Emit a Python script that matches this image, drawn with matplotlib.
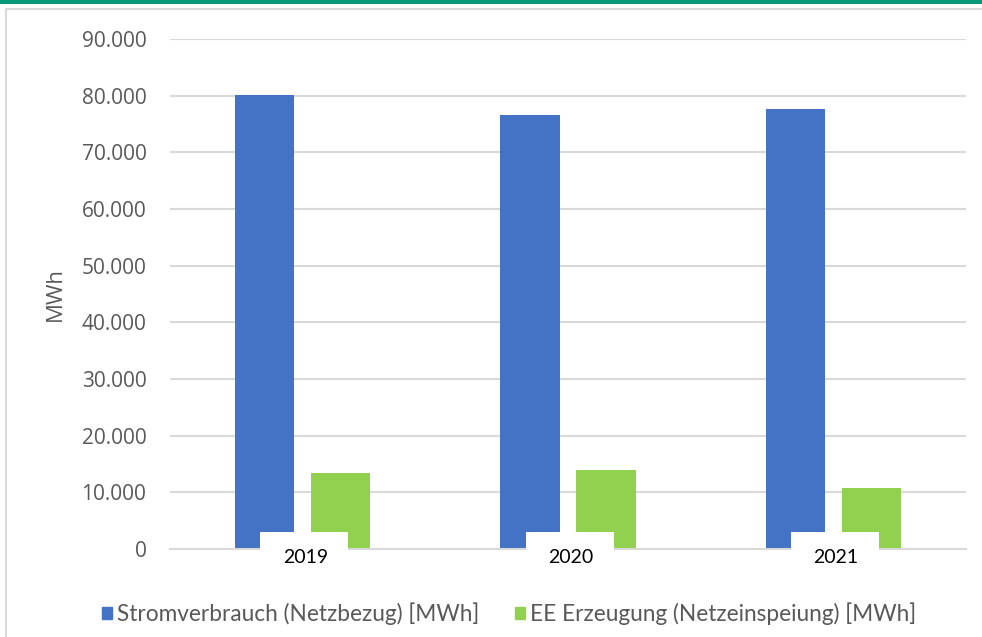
import matplotlib
matplotlib.use("Agg")
import matplotlib.pyplot as plt
import numpy as np
from matplotlib.patches import Rectangle, Patch
from matplotlib.ticker import FuncFormatter, MultipleLocator

YEARS = ["2019", "2020", "2021"]
NETZBEZUG = [80100, 76500, 77700]      # Stromverbrauch (Netzbezug) [MWh]
EINSPEISUNG = [13350, 13950, 10700]    # EE Erzeugung (Netzeinspeiung) [MWh]
LABELS = ["Stromverbrauch (Netzbezug) [MWh]", "EE Erzeugung (Netzeinspeiung) [MWh]"]

BLUE = "#4472c4"
GREEN = "#92d050"
GRID = "#d9d9d9"

W, H = 982, 637
fig = plt.figure(figsize=(W / 100, H / 100), dpi=100)
ax = fig.add_axes([170 / W, 1 - 549 / H, 796 / W, 510 / H])

x = np.arange(len(YEARS))
bw = 0.2224
off = 0.1432
ax.bar(x - off, NETZBEZUG, bw, color=BLUE, zorder=2)
ax.bar(x + off, EINSPEISUNG, bw, color=GREEN, zorder=2)

ax.set_xlim(-0.5, len(YEARS) - 0.5)
ax.set_ylim(0, 90000)
ax.yaxis.set_major_locator(MultipleLocator(10000))
ax.yaxis.set_major_formatter(FuncFormatter(lambda v, p: f"{int(v):,}".replace(",", ".")))
ax.grid(axis="y", color=GRID, linewidth=1.5, zorder=0)
ax.set_axisbelow(True)
for s in ["top", "right", "left"]:
    ax.spines[s].set_visible(False)
ax.spines["bottom"].set_color(GRID)
ax.spines["bottom"].set_linewidth(1.5)
ax.tick_params(axis="y", length=0, pad=17, labelsize=15, labelcolor="#595959")
ax.tick_params(axis="x", length=0, labelbottom=False)
for t in ax.get_yticklabels():
    t.set_fontfamily("Open Sans")
ax.set_ylabel("MWh", fontsize=16, color="#595959", family="Open Sans", labelpad=11)

# year labels sit on white boxes that cover the bar feet
for i, yr in enumerate(YEARS):
    ax.add_patch(Rectangle((i - 0.16, -6000), 0.332, 9000, facecolor="white",
                           edgecolor="none", zorder=3, clip_on=False))
    ax.text(i + 0.01, -0.017, yr, transform=ax.get_xaxis_transform(), ha="center",
            va="center", fontsize=14, family="Lato", color="black", zorder=4)

handles = [Patch(color=BLUE), Patch(color=GREEN)]
fig.legend(handles, LABELS, loc="center", bbox_to_anchor=(509 / W, 1 - 614 / H),
           ncol=2, frameon=False, prop={"family": "Lato", "size": 16.3},
           handlelength=0.45, handleheight=0.45, handletextpad=0.2, columnspacing=1.6,
           labelcolor="#595959")

# outer frame and top accent bar
fig.add_artist(Rectangle((6 / W, -0.1), 1.2, 1 - 9 / H + 0.1, transform=fig.transFigure,
                         facecolor="none", edgecolor=GRID, linewidth=1.5))
fig.add_artist(Rectangle((0, 1 - 3.5 / H), 1, 3.5 / H, transform=fig.transFigure,
                         facecolor="#079878", edgecolor="none"))

fig.savefig("out.png", dpi=100)
